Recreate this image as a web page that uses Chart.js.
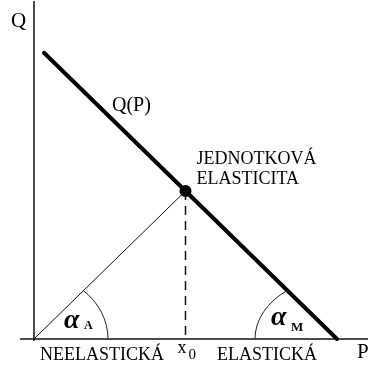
<!DOCTYPE html>
<html>
<head>
<meta charset="utf-8">
<script src="https://cdn.jsdelivr.net/npm/chart.js@4/dist/chart.umd.min.js"></script>
<style>
  html, body { margin: 0; padding: 0; background: #fff; }
  canvas { display: block; }
</style>
</head>
<body>
<canvas id="c" width="370" height="367"></canvas>
<script>
// Linear demand curve Q(P) and the point of unit elasticity
const demandP = [0.33, 10];
const demandQ = [9.67, 0];
const unitP = [5];
const unitQ = [5];

// Axis extents (price on x, quantity on y)
const priceAxis = [-0.46, 11.02];
const quantityAxis = [-0.07, 11.42];

// Texts
const axisTitles = ['Q', 'P'];
const curveName = 'Q(P)';
const unitText = ['JEDNOTKOVÁ', 'ELASTICITA'];
const zoneTexts = ['NEELASTICKÁ', 'ELASTICKÁ'];
const pointName = ['x', '0'];
const angleNames = [['α', 'A'], ['α', 'M']];

const pts = (xs, ys) => xs.map((x, i) => ({ x, y: ys[i] }));
const SERIF = '"Liberation Serif", "DejaVu Serif", serif';

// Angle arcs, captions and labels drawn on top of the plotted lines
const annotate = {
  id: 'annotate',
  afterDatasetsDraw(chart) {
    const { ctx, scales: { x, y } } = chart;
    const ox = x.getPixelForValue(0), oy = y.getPixelForValue(0);
    const ux = x.getPixelForValue(unitP[0]), uy = y.getPixelForValue(unitQ[0]);
    const ex = x.getPixelForValue(demandP[1]);

    ctx.save();
    ctx.strokeStyle = '#222';
    ctx.lineWidth = 1;
    // angle alpha_A between P axis and the ray from the origin
    ctx.beginPath();
    ctx.ellipse(ox, oy, 74, 65, 0, 0, -0.85, true);
    ctx.stroke();
    // angle alpha_M between P axis and the demand line
    ctx.beginPath();
    ctx.ellipse(ex, oy, 82, 61, 0, Math.PI, Math.PI + 0.93, false);
    ctx.stroke();

    ctx.fillStyle = '#000';
    ctx.textBaseline = 'alphabetic';
    ctx.textAlign = 'left';

    ctx.font = `21px ${SERIF}`;
    ctx.fillText(axisTitles[0], ox - 23, 27);
    ctx.fillText(axisTitles[1], 357, oy + 19);

    ctx.font = `20px ${SERIF}`;
    ctx.fillText(curveName, 112, 111);

    ctx.font = `18px ${SERIF}`;
    ctx.fillText(unitText[0], ux + 11, uy - 27);
    ctx.fillText(unitText[1], ux + 11, uy - 7);

    ctx.fillText(zoneTexts[0], 40, oy + 21);
    ctx.fillText(zoneTexts[1], 217, oy + 21);

    ctx.fillText(pointName[0], ux - 8, oy + 14);
    ctx.font = `15px ${SERIF}`;
    ctx.fillText(pointName[1], ux + 3, oy + 20);

    ctx.font = `italic bold 28px ${SERIF}`;
    ctx.fillText(angleNames[0][0], ox + 30, oy - 11);
    ctx.fillText(angleNames[1][0], 271, oy - 14);
    ctx.font = `bold 12px ${SERIF}`;
    ctx.fillText(angleNames[0][1], ox + 50, oy - 10);
    ctx.font = `bold 13px ${SERIF}`;
    ctx.fillText(angleNames[1][1], 291, oy - 8);
    ctx.restore();
  }
};

new Chart(document.getElementById('c'), {
  type: 'scatter',
  data: {
    datasets: [
      { // P axis
        data: pts(priceAxis, [0, 0]),
        showLine: true, borderColor: '#111', borderWidth: 1.5, pointRadius: 0, clip: false
      },
      { // Q axis
        data: pts([0, 0], quantityAxis),
        showLine: true, borderColor: '#111', borderWidth: 1.5, pointRadius: 0, clip: false
      },
      { // ray from the origin to the unit-elastic point
        data: pts([0, unitP[0]], [0, unitQ[0]]),
        showLine: true, borderColor: '#111', borderWidth: 1, pointRadius: 0, clip: false
      },
      { // drop line to x0
        data: pts([unitP[0], unitP[0]], [unitQ[0], 0]),
        showLine: true, borderColor: '#111', borderWidth: 1.5, borderDash: [9, 6],
        pointRadius: 0, clip: false
      },
      { // demand curve
        data: pts(demandP, demandQ),
        showLine: true, borderColor: '#000', borderWidth: 4, borderCapStyle: 'round',
        pointRadius: 0, clip: false
      },
      { // unit elasticity point
        data: pts(unitP, unitQ),
        showLine: false, pointRadius: 6, pointBackgroundColor: '#000',
        pointBorderColor: '#000', pointBorderWidth: 0, clip: false
      }
    ]
  },
  options: {
    responsive: false,
    devicePixelRatio: 1,
    animation: false,
    layout: { padding: 0, autoPadding: false },
    plugins: { legend: { display: false }, tooltip: { enabled: false } },
    scales: {
      x: { type: 'linear', display: false, min: -1.122, max: 11.089 },
      y: { type: 'linear', display: false, min: -0.946, max: 11.453 }
    }
  },
  plugins: [annotate]
});
</script>
</body>
</html>
